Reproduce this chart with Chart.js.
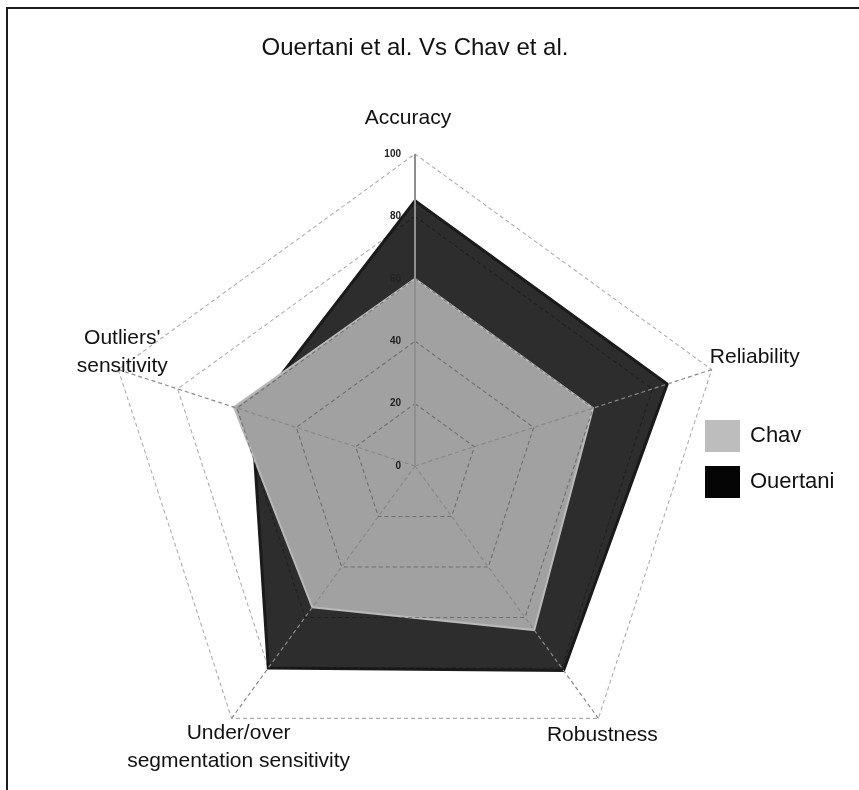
<!DOCTYPE html>
<html>
<head>
<meta charset="utf-8">
<script src="https://cdn.jsdelivr.net/npm/chart.js@4"></script>
<style>
  body { margin: 0; background: #fff; }
  #wrap { position: relative; width: 859px; height: 790px; overflow: hidden; }
  #frame { position: absolute; left: 6px; top: 7px; right: -4px; bottom: -4px;
           border-left: 2px solid #1c1c1c; border-top: 2px solid #1c1c1c; pointer-events: none; }
  .leyenda { position: absolute; left: 705px; font-family: "Liberation Sans", sans-serif; font-size: 22px; color: #111; }
  .leyenda span.caja { position: absolute; left: 0; top: 0; width: 35px; height: 32px; }
  .leyenda span.txt { position: absolute; left: 45px; top: 2px; white-space: nowrap; }
</style>
</head>
<body>
<div id="wrap">
  <canvas id="myChart" width="859" height="790"></canvas>
  <div id="leyendas"></div>
  <div id="frame"></div>
</div>
<script>
/// datos ///
const categorias = ["Accuracy", "Reliability", "Robustness", ["Under/over", "segmentation sensitivity"], ["Outliers'", "sensitivity"]];
const chav = [60, 60, 65, 56, 61];
const ouertani = [85, 85, 81, 80, 55];
const ticksEje = [0, 20, 40, 60, 80, 100];
const titulo = "Ouertani et al. Vs Chav et al.";

const colorChav = "#a1a1a1";
const colorOuertani = "#2d2d2d";

// etiquetas de cada eje, movidas a mano desde el vertice exterior
const ajusteEtiquetas = [[-7, -36], [43, -12], [4, 17], [7, 15], [4, -31]];

const textoEjes = {
  id: "textoEjes",
  afterDraw(chart) {
    const ctx = chart.ctx;
    const r = chart.scales.r;
    ctx.save();
    // numeros del eje
    ctx.font = "bold 10px 'Liberation Sans'";
    ctx.fillStyle = "#222";
    ctx.textAlign = "right";
    ctx.textBaseline = "middle";
    r.ticks.forEach(function (t) {
      const d = r.getDistanceFromCenterForValue(t.value);
      ctx.fillText(t.label, r.xCenter - 14, r.yCenter - d);
    });
    // nombres de los ejes
    ctx.font = "21px 'Liberation Sans'";
    ctx.fillStyle = "#111";
    ctx.textAlign = "center";
    chart.data.labels.forEach(function (lab, i) {
      const p = r.getPointPositionForValue(i, r.max);
      const lineas = Array.isArray(lab) ? lab : [lab];
      lineas.forEach(function (l, k) {
        ctx.fillText(l, p.x + ajusteEtiquetas[i][0], p.y + ajusteEtiquetas[i][1] + k * 28);
      });
    });
    ctx.restore();
  }
};

const config = {
  type: "radar",
  data: {
    labels: categorias,
    datasets: [
      {
        label: "Chav",
        data: chav,
        backgroundColor: colorChav,
        borderColor: "#b9b9b9",
        borderWidth: 2,
        pointRadius: 0,
        fill: true
      },
      {
        label: "Ouertani",
        data: ouertani,
        backgroundColor: colorOuertani,
        borderColor: "#1a1a1a",
        borderWidth: 3,
        pointRadius: 0,
        fill: true
      }
    ]
  },
  options: {
    responsive: false,
    animation: false,
    layout: { padding: { left: 95, right: 124, top: 0, bottom: 11 } },
    plugins: {
      legend: { display: false },
      tooltip: { enabled: false },
      title: {
        display: true,
        text: titulo,
        color: "#111",
        font: { family: "Liberation Sans", size: 24, weight: "normal" },
        padding: { top: 34, bottom: 91.2 }
      }
    },
    scales: {
      r: {
        min: 0,
        max: 100,
        ticks: { stepSize: 20, display: false },
        pointLabels: { display: false },
        grid: { color: "rgba(0,0,0,0.32)", lineWidth: 1.1, z: 1, borderDash: [4, 3] },
        border: { dash: [4, 3] },
        angleLines: {
          color: function (c) { return c.index === 0 ? "#8f8f8f" : "#888888"; },
          lineWidth: function (c) { return c.index === 0 ? 2 : 1.2; },
          borderDash: function (c) { return c.index === 0 ? [] : [4, 3]; }
        }
      }
    }
  },
  plugins: [textoEjes]
};

const chartDOM = document.getElementById("myChart");
const grafico = new Chart(chartDOM, config);

// leyenda hecha con los datasets
const leyendas = document.getElementById("leyendas");
let template = "";
grafico.data.datasets.forEach(function (ds, i) {
  const caja = i === 0 ? "#bdbdbd" : "#050505";
  template += `
  <div class="leyenda" style="top:${420 + i * 46}px">
    <span class="caja" style="background:${caja}"></span>
    <span class="txt">${ds.label}</span>
  </div>`;
});
leyendas.innerHTML = template;
</script>
</body>
</html>
